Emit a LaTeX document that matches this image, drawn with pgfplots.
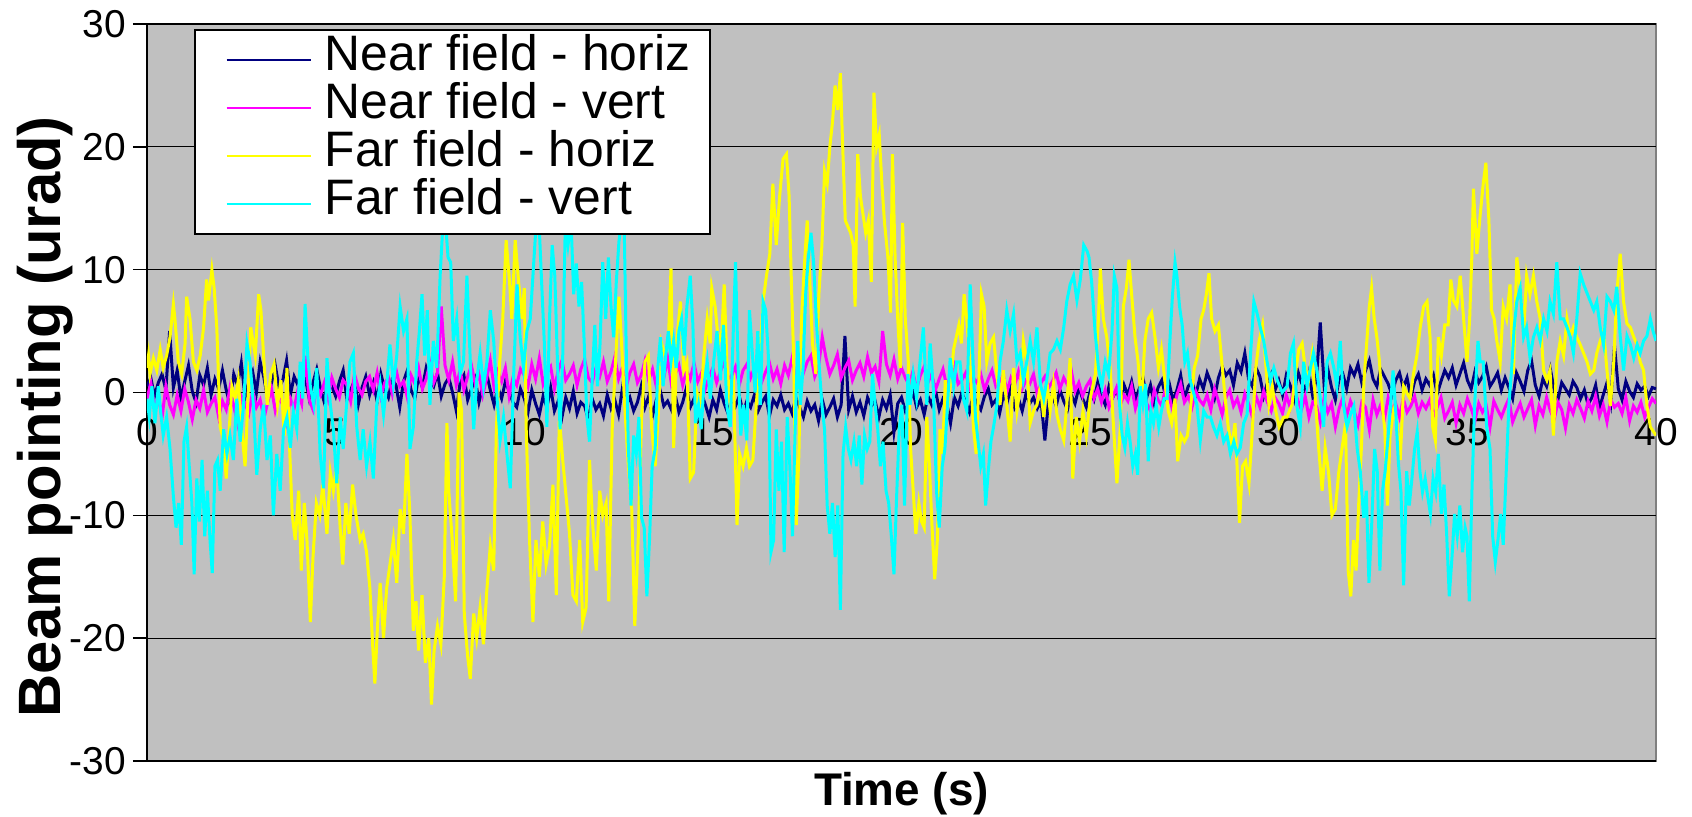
\documentclass[border=0pt]{standalone}
\usepackage{fontspec}
\setmainfont{Liberation Sans}
\usepackage{pgfplots}
\usepackage{pgfplotstable}
\pgfplotsset{compat=1.18}

\definecolor{plotbg}{RGB}{192,192,192}
\definecolor{framegray}{RGB}{128,128,128}
\definecolor{nfh}{RGB}{0,0,128}
\definecolor{nfv}{RGB}{255,0,255}
\definecolor{ffh}{RGB}{255,255,0}
\definecolor{ffv}{RGB}{0,255,255}

% near-field beam pointing, sampled every 0.1 s: time, horizontal, vertical (urad)
\pgfplotstableread[row sep=\\]{
t nfh nfv\\
0.0 0.5 -0.5\\ 0.1 1.2 0.8\\ 0.2 -0.3 -1.2\\ 0.3 0.8 -0.3\\ 0.4 1.5 -2.0\\ 0.5 0.2 0.5\\ 0.6 5.0 -1.0\\ 0.7 0.4 -1.8\\ 0.8 1.8 -0.2\\ 0.9 -0.5 -1.5\\
1.0 0.9 0.3\\ 1.1 2.2 -0.8\\ 1.2 0.1 -2.2\\ 1.3 -0.8 -0.6\\ 1.4 1.4 -1.3\\ 1.5 0.6 0.2\\ 1.6 2.0 -1.6\\ 1.7 -0.2 -0.9\\ 1.8 1.1 -0.4\\ 1.9 0.3 -2.0\\
2.0 1.8 -0.7\\ 2.1 0.2 -1.4\\ 2.2 -1.0 0.4\\ 2.3 1.5 -1.1\\ 2.4 0.6 -2.5\\ 2.5 2.4 -0.3\\ 2.6 -0.4 -0.9\\ 2.7 0.9 -1.7\\ 2.8 1.7 0.1\\ 2.9 0.0 -1.2\\
3.0 2.5 -0.6\\ 3.1 1.2 -2.1\\ 3.2 -0.6 -0.8\\ 3.3 0.8 0.3\\ 3.4 2.2 -1.5\\ 3.5 0.4 -0.4\\ 3.6 1.0 -1.0\\ 3.7 2.6 -2.4\\ 3.8 -0.2 -0.5\\ 3.9 1.3 -1.3\\
4.0 0.6 0.2\\ 4.1 2.0 -0.9\\ 4.2 1.1 3.0\\ 4.3 -0.5 -0.6\\ 4.4 0.8 -1.4\\ 4.5 1.9 0.5\\ 4.6 0.3 -0.2\\ 4.7 -0.8 0.8\\ 4.8 1.2 -0.5\\ 4.9 0.5 1.2\\
5.0 -0.3 0.3\\ 5.1 0.9 -0.4\\ 5.2 1.8 1.0\\ 5.3 -0.6 0.6\\ 5.4 0.2 -0.7\\ 5.5 1.0 1.5\\ 5.6 -1.0 0.4\\ 5.7 0.4 -0.2\\ 5.8 1.3 0.9\\ 5.9 -0.2 1.3\\
6.0 0.8 0.2\\ 6.1 -0.7 1.6\\ 6.2 1.5 -0.3\\ 6.3 0.3 0.8\\ 6.4 -0.4 1.2\\ 6.5 1.1 -0.1\\ 6.6 0.6 1.9\\ 6.7 -1.2 0.5\\ 6.8 0.9 0.9\\ 6.9 1.8 -0.4\\
7.0 0.2 1.4\\ 7.1 -0.5 0.7\\ 7.2 1.3 2.0\\ 7.3 0.4 0.3\\ 7.4 2.0 1.1\\ 7.5 1.0 2.4\\ 7.6 0.5 0.8\\ 7.7 1.6 1.6\\ 7.8 -0.3 7.0\\ 7.9 0.7 2.2\\
8.0 1.2 1.0\\ 8.1 0.0 2.5\\ 8.2 -1.5 0.6\\ 8.3 0.8 1.8\\ 8.4 1.4 0.2\\ 8.5 -0.6 1.3\\ 8.6 0.3 2.2\\ 8.7 1.1 0.7\\ 8.8 -0.8 1.5\\ 8.9 0.5 -0.2\\
9.0 1.6 1.1\\ 9.1 0.2 2.6\\ 9.2 -1.0 0.4\\ 9.3 0.4 1.7\\ 9.4 -0.5 0.9\\ 9.5 0.9 2.0\\ 9.6 0.1 -0.3\\ 9.7 -0.8 1.2\\ 9.8 -1.2 0.6\\ 9.9 0.3 1.9\\
10.0 -0.5 1.4\\ 10.1 -1.6 0.5\\ 10.2 0.2 2.3\\ 10.3 -0.9 1.1\\ 10.4 -1.8 2.8\\ 10.5 -0.3 0.7\\ 10.6 -1.2 1.6\\ 10.7 0.4 2.1\\ 10.8 -1.5 0.3\\ 10.9 -0.7 1.8\\
11.0 -2.0 2.6\\ 11.1 -0.4 1.0\\ 11.2 -1.3 1.5\\ 11.3 0.1 2.2\\ 11.4 -1.7 0.6\\ 11.5 -0.8 1.9\\ 11.6 -1.1 2.7\\ 11.7 -2.2 1.2\\ 11.8 -0.5 0.8\\ 11.9 -1.4 2.0\\
12.0 -0.9 1.3\\ 12.1 -1.9 2.5\\ 12.2 -0.2 0.9\\ 12.3 -1.3 1.7\\ 12.4 -0.6 2.9\\ 12.5 -1.8 1.1\\ 12.6 0.3 2.0\\ 12.7 -1.0 0.4\\ 12.8 -0.4 1.6\\ 12.9 -1.5 2.3\\
13.0 -0.8 0.8\\ 13.1 0.5 1.4\\ 13.2 -1.2 2.6\\ 13.3 -0.3 1.0\\ 13.4 -1.9 1.9\\ 13.5 -0.6 0.5\\ 13.6 0.2 2.1\\ 13.7 -1.1 1.2\\ 13.8 -0.7 2.8\\ 13.9 -1.4 0.7\\
14.0 -0.2 1.5\\ 14.1 -1.6 2.2\\ 14.2 -0.8 0.6\\ 14.3 0.4 1.8\\ 14.4 -1.2 1.1\\ 14.5 -0.5 2.4\\ 14.6 -1.9 0.9\\ 14.7 -0.1 1.6\\ 14.8 -1.0 0.3\\ 14.9 -2.0 1.3\\
15.0 -0.6 2.0\\ 15.1 -1.4 0.8\\ 15.2 0.2 1.7\\ 15.3 -0.9 2.5\\ 15.4 -1.7 1.0\\ 15.5 -0.4 1.4\\ 15.6 -1.1 2.1\\ 15.7 -0.3 0.6\\ 15.8 -1.6 1.8\\ 15.9 -0.7 2.3\\
16.0 -1.2 1.2\\ 16.1 -0.2 2.0\\ 16.2 -1.5 1.5\\ 16.3 -0.8 0.9\\ 16.4 -0.3 1.7\\ 16.5 -1.9 2.4\\ 16.6 -0.6 1.1\\ 16.7 -1.1 1.9\\ 16.8 -0.2 0.7\\ 16.9 -1.4 2.2\\
17.0 -0.9 1.4\\ 17.1 -1.7 2.8\\ 17.2 -0.4 1.0\\ 17.3 -1.2 2.3\\ 17.4 -2.0 1.6\\ 17.5 -0.7 2.5\\ 17.6 -1.5 3.0\\ 17.7 -1.0 1.3\\ 17.8 -2.3 2.1\\ 17.9 -0.6 4.5\\
18.0 -1.8 2.8\\ 18.1 -1.2 1.5\\ 18.2 -0.5 2.2\\ 18.3 -2.0 3.1\\ 18.4 -1.0 1.2\\ 18.5 4.6 2.0\\ 18.6 -1.4 2.6\\ 18.7 -0.3 1.0\\ 18.8 -1.6 1.8\\ 18.9 -0.8 2.4\\
19.0 -1.9 1.3\\ 19.1 -0.4 2.9\\ 19.2 -1.1 1.6\\ 19.3 -0.7 2.1\\ 19.4 -2.0 0.9\\ 19.5 -0.6 5.0\\ 19.6 -1.3 2.3\\ 19.7 -0.2 1.4\\ 19.8 -3.2 2.7\\ 19.9 -0.9 1.1\\
20.0 -0.4 2.0\\ 20.1 -1.5 1.2\\ 20.2 -0.9 0.6\\ 20.3 0.1 1.7\\ 20.4 -1.2 0.3\\ 20.5 -0.6 1.4\\ 20.6 -1.8 2.1\\ 20.7 -0.3 0.8\\ 20.8 -1.0 1.5\\ 20.9 0.2 0.2\\
21.0 -1.4 1.1\\ 21.1 -0.5 1.9\\ 21.2 -0.9 0.5\\ 21.3 -2.5 1.3\\ 21.4 -0.4 2.2\\ 21.5 -1.1 0.7\\ 21.6 0.0 1.0\\ 21.7 -0.8 1.6\\ 21.8 -1.6 0.4\\ 21.9 -0.2 1.2\\
22.0 -0.9 0.8\\ 22.1 -1.4 1.5\\ 22.2 -0.3 0.2\\ 22.3 0.3 1.1\\ 22.4 -1.0 1.8\\ 22.5 -0.6 0.5\\ 22.6 -1.7 0.9\\ 22.7 -0.2 1.4\\ 22.8 -0.8 0.1\\ 22.9 0.4 1.2\\
23.0 -1.2 0.6\\ 23.1 -0.5 1.7\\ 23.2 -1.5 0.3\\ 23.3 -0.1 1.0\\ 23.4 -0.9 0.7\\ 23.5 -0.4 1.5\\ 23.6 -1.3 -0.2\\ 23.7 -0.7 0.8\\ 23.8 -3.9 1.3\\ 23.9 -0.6 0.4\\
24.0 -0.3 0.9\\ 24.1 -1.1 1.6\\ 24.2 0.2 0.3\\ 24.3 -0.7 1.2\\ 24.4 -1.4 0.6\\ 24.5 -0.2 1.8\\ 24.6 -0.9 0.1\\ 24.7 0.4 0.8\\ 24.8 -0.5 -0.3\\ 24.9 -1.2 0.5\\
25.0 0.1 1.0\\ 25.1 -0.6 -0.5\\ 25.2 0.8 0.3\\ 25.3 -0.3 -0.8\\ 25.4 -1.0 0.2\\ 25.5 0.5 -1.2\\ 25.6 -0.4 -0.4\\ 25.7 0.2 0.4\\ 25.8 -0.8 -1.0\\ 25.9 0.6 -0.2\\
26.0 -0.2 -0.7\\ 26.1 0.9 0.5\\ 26.2 -0.6 -1.3\\ 26.3 0.3 -0.3\\ 26.4 1.2 0.6\\ 26.5 -0.4 -0.9\\ 26.6 0.6 -1.5\\ 26.7 -0.9 0.2\\ 26.8 0.4 -0.6\\ 26.9 1.0 -1.1\\
27.0 -0.3 0.4\\ 27.1 0.7 -0.4\\ 27.2 -0.7 -1.6\\ 27.3 0.2 -0.2\\ 27.4 1.4 0.7\\ 27.5 -0.5 -0.8\\ 27.6 0.5 -0.3\\ 27.7 0.9 -1.2\\ 27.8 -0.2 0.1\\ 27.9 1.1 -0.6\\
28.0 0.3 -1.0\\ 28.1 1.6 -0.2\\ 28.2 0.8 -1.4\\ 28.3 -0.4 0.3\\ 28.4 1.2 -0.7\\ 28.5 2.1 -1.8\\ 28.6 1.4 -0.4\\ 28.7 1.8 0.2\\ 28.8 0.6 -1.1\\ 28.9 2.4 -0.5\\
29.0 1.7 -1.6\\ 29.1 3.2 -0.1\\ 29.2 1.1 -0.9\\ 29.3 0.5 -2.0\\ 29.4 2.0 -0.3\\ 29.5 1.3 -1.2\\ 29.6 -0.3 0.1\\ 29.7 0.8 -0.8\\ 29.8 1.5 -1.5\\ 29.9 0.2 -0.4\\
30.0 1.0 -0.9\\ 30.1 -0.2 -1.7\\ 30.2 1.4 -0.2\\ 30.3 0.6 -1.2\\ 30.4 -0.5 0.4\\ 30.5 1.8 -0.6\\ 30.6 0.8 -1.4\\ 30.7 0.2 -0.3\\ 30.8 1.6 -2.0\\ 30.9 -0.3 -0.8\\
31.0 1.2 -1.1\\ 31.1 5.7 -2.4\\ 31.2 0.7 -0.5\\ 31.3 1.9 -1.6\\ 31.4 0.4 -0.9\\ 31.5 -0.6 -2.8\\ 31.6 1.1 -1.3\\ 31.7 1.5 -0.4\\ 31.8 0.3 -1.9\\ 31.9 2.0 -0.7\\
32.0 1.4 -1.5\\ 32.1 2.3 -2.6\\ 32.2 0.8 -0.8\\ 32.3 1.8 -1.2\\ 32.4 2.6 -3.0\\ 32.5 1.1 -0.6\\ 32.6 0.5 -1.8\\ 32.7 1.9 -1.0\\ 32.8 1.3 -2.2\\ 32.9 0.7 -0.4\\
33.0 -0.2 -1.4\\ 33.1 1.0 -0.9\\ 33.2 1.6 -2.0\\ 33.3 0.4 -0.5\\ 33.4 1.2 -1.6\\ 33.5 -0.4 -1.1\\ 33.6 0.9 -0.3\\ 33.7 1.5 -1.7\\ 33.8 0.2 -0.8\\ 33.9 1.1 -1.3\\
34.0 0.6 -0.6\\ 34.1 1.4 -1.9\\ 34.2 -0.1 -1.2\\ 34.3 0.9 -0.4\\ 34.4 1.8 -2.1\\ 34.5 1.2 -1.5\\ 34.6 2.0 -0.8\\ 34.7 0.6 -2.5\\ 34.8 1.5 -1.0\\ 34.9 2.4 -1.7\\
35.0 1.0 -0.5\\ 35.1 0.3 -1.3\\ 35.2 1.7 -2.3\\ 35.3 0.8 -0.9\\ 35.4 1.3 -1.6\\ 35.5 2.1 -1.1\\ 35.6 0.5 -2.8\\ 35.7 1.0 -0.7\\ 35.8 1.6 -1.4\\ 35.9 0.2 -2.0\\
36.0 1.2 -1.2\\ 36.1 0.4 -0.5\\ 36.2 -0.5 -2.4\\ 36.3 1.6 -1.6\\ 36.4 0.9 -0.9\\ 36.5 0.1 -2.0\\ 36.6 1.8 -1.3\\ 36.7 2.6 -0.6\\ 36.8 0.6 -2.7\\ 36.9 -0.3 -1.1\\
37.0 1.1 -1.8\\ 37.1 0.5 -0.4\\ 37.2 1.9 -1.5\\ 37.3 0.2 -2.2\\ 37.4 -0.6 -0.8\\ 37.5 0.8 -1.4\\ 37.6 0.3 -2.9\\ 37.7 -0.2 -1.0\\ 37.8 0.9 -1.7\\ 37.9 0.4 -0.6\\
38.0 -0.5 -1.3\\ 38.1 0.2 -2.1\\ 38.2 -1.0 -0.7\\ 38.3 -0.4 -1.5\\ 38.4 0.6 -0.3\\ 38.5 -1.3 -1.9\\ 38.6 -0.2 -1.0\\ 38.7 0.8 -2.4\\ 38.8 -0.8 -0.6\\ 38.9 3.8 -1.2\\
39.0 0.3 -0.9\\ 39.1 -0.6 -1.7\\ 39.2 0.9 -0.4\\ 39.3 0.1 -2.3\\ 39.4 -0.4 -1.1\\ 39.5 0.7 -1.6\\ 39.6 0.2 -0.8\\ 39.7 0.5 -2.0\\ 39.8 -0.3 -1.2\\ 39.9 0.4 -0.5\\ 40.0 0.3 -0.9\\
}\nearfield

\begin{document}
\begin{tikzpicture}
\begin{axis}[
  name=ax,
  scale only axis,
  width=754.5bp, height=368.5bp,
  xmin=0, xmax=40, ymin=-30, ymax=30,
  axis x line=middle, axis y line=left,
  hide obscured x ticks=false,
  axis line style={-, line width=0.8bp, black},
  axis background/.style={fill=plotbg, draw=framegray, line width=1.1bp},
  xtick={0,5,...,40},
  xticklabels={0,5,10,15,20,25,30,35,40},
  ytick={-30,-20,...,30},
  yticklabels={-30,-20,-10,0,10,20,30},
  ymajorgrids,
  grid style={black, line width=0.6bp},
  xtick style={draw=none},
  ytick style={black, line width=0.8bp},
  tick align=outside, major tick length=7bp,
  tick label style={font=\fontsize{19.5}{19.5}\selectfont},
  xticklabel style={anchor=center, yshift=-13bp},
  yticklabel style={anchor=east},
  every axis x label/.style={at={(rel axis cs:0.5,0)}, yshift=-16.5bp, anchor=center,
    font=\fontsize{23}{23}\selectfont\bfseries},
  every axis y label/.style={at={(rel axis cs:0,0.467)}, xshift=-51bp, rotate=90, anchor=center,
    font=\fontsize{30}{30}\selectfont\bfseries},
  xlabel={Time (s)},
  ylabel={Beam pointing (urad)},
  legend style={
    at={(rel axis cs:0.0311,0.9932)}, anchor=north west,
    draw=black, line width=0.8bp, fill=white,
    font=\fontsize{25}{25}\selectfont,
    inner xsep=10bp, inner ysep=3bp, row sep=0pt,
    nodes={inner sep=0pt, text height=17.5bp, text depth=6.5bp},
  },
  legend cell align=left,
  legend image code/.code={%
    \path[draw=none] (-6bp,0bp) (49bp,0bp);
    \draw[#1, line width=1.2bp] (0bp,0bp) -- (42bp,0bp);},
]
\addplot[nfh, line width=1.5bp, no markers] table[x=t, y=nfh] {\nearfield};
\addlegendentry{Near field - horiz}
\addplot[nfv, line width=1.5bp, no markers] table[x=t, y=nfv] {\nearfield};
\addlegendentry{Near field - vert}
% far field, horizontal
\addplot[ffh, line width=1.5bp, no markers] coordinates {
(0.00,2.0) (0.04,3.0) (0.08,1.5) (0.17,2.8) (0.26,1.8) (0.35,3.5) (0.43,2.0) (0.52,3.0) (0.61,4.5) (0.70,7.2)
(0.74,6.0) (0.83,2.5) (0.92,1.5) (1.01,4.0) (1.05,7.8) (1.14,6.0) (1.23,2.5) (1.32,1.8) (1.41,3.0) (1.50,5.3)
(1.58,9.2) (1.63,7.5) (1.72,10.0) (1.78,8.5) (1.85,5.3) (1.94,-2.8) (2.03,-3.9) (2.10,-7.0) (2.16,-4.0) (2.25,0.5)
(2.34,-0.5) (2.42,1.0) (2.51,-3.0) (2.60,-6.0) (2.69,0.5) (2.75,5.3) (2.87,3.0) (2.96,8.0) (3.02,6.7) (3.11,2.0)
(3.19,-1.0) (3.28,1.5) (3.37,2.3) (3.46,-1.0) (3.55,1.0) (3.64,-3.5) (3.71,2.0) (3.78,-4.5) (3.85,-10.0) (3.93,-12.0)
(4.02,-8.0) (4.09,-14.5) (4.17,-9.0) (4.24,-12.0) (4.33,-18.7) (4.40,-13.4) (4.49,-9.0) (4.58,-10.0) (4.66,-7.5) (4.77,-11.5)
(4.86,-6.5) (4.94,-8.0) (5.03,-6.0) (5.12,-11.0) (5.19,-14.0) (5.27,-9.0) (5.36,-11.5) (5.45,-7.5) (5.54,-10.0) (5.65,-12.0)
(5.73,-11.5) (5.82,-13.0) (5.91,-16.0) (5.98,-20.5) (6.04,-23.7) (6.11,-19.0) (6.18,-15.5) (6.27,-20.0) (6.35,-16.0) (6.44,-14.0)
(6.53,-12.0) (6.62,-15.5) (6.71,-9.5) (6.80,-11.5) (6.89,-5.0) (6.97,-10.0) (7.06,-19.4) (7.13,-17.0) (7.20,-21.0) (7.29,-16.5)
(7.38,-22.0) (7.47,-20.0) (7.54,-25.4) (7.61,-21.0) (7.70,-19.0) (7.79,-20.5) (7.88,-15.0) (7.95,-2.5) (8.00,-8.0) (8.09,-12.0)
(8.18,-17.0) (8.27,0.0) (8.34,-1.5) (8.41,-18.0) (8.50,-21.5) (8.57,-23.3) (8.66,-18.0) (8.74,-20.0) (8.83,-17.5) (8.92,-20.5)
(9.01,-16.0) (9.10,-12.5) (9.19,-14.5) (9.26,-3.0) (9.35,2.5) (9.43,6.0) (9.52,12.4) (9.61,9.0) (9.67,6.0) (9.76,12.4)
(9.85,9.0) (9.94,6.0) (10.00,8.5) (10.05,-2.8) (10.14,-12.0) (10.23,-18.7) (10.31,-12.0) (10.40,-15.0) (10.49,-10.5) (10.58,-14.0)
(10.67,-12.5) (10.76,-7.5) (10.85,-16.5) (10.93,-2.0) (11.02,-5.5) (11.11,-8.5) (11.20,-11.5) (11.29,-16.5) (11.38,-17.0) (11.47,-12.0)
(11.55,-18.7) (11.64,-17.5) (11.73,-5.5) (11.82,-11.0) (11.91,-14.5) (12.00,-8.0) (12.08,-10.0) (12.17,-9.0) (12.24,-17.0) (12.33,-3.0)
(12.42,2.5) (12.51,7.8) (12.58,4.0) (12.67,-1.5) (12.76,-6.0) (12.85,-9.5) (12.93,-19.0) (13.02,-12.0) (13.11,-2.0) (13.20,2.5)
(13.29,3.0) (13.38,-3.0) (13.47,-6.0) (13.55,-2.0) (13.64,4.0) (13.73,3.0) (13.82,4.2) (13.89,10.1) (13.96,-4.5) (14.05,4.5)
(14.14,7.4) (14.23,1.8) (14.31,2.5) (14.40,-7.0) (14.49,-6.5) (14.58,0.0) (14.67,-1.0) (14.76,3.0) (14.85,6.0) (14.93,4.0)
(14.97,8.5) (15.06,7.0) (15.15,4.0) (15.24,5.0) (15.30,8.8) (15.37,2.5) (15.46,-1.0) (15.55,0.5) (15.64,-10.8) (15.71,-5.0)
(15.80,-6.0) (15.89,-4.5) (15.97,-6.0) (16.06,-5.5) (16.15,-1.0) (16.24,2.5) (16.33,7.4) (16.42,9.5) (16.51,11.3) (16.59,17.0)
(16.68,12.0) (16.77,16.0) (16.86,19.0) (16.95,19.4) (17.02,16.0) (17.09,8.0) (17.14,3.0) (17.21,-10.8) (17.28,-5.0) (17.35,6.0)
(17.43,10.6) (17.50,14.0) (17.57,9.0) (17.64,4.0) (17.73,1.5) (17.81,8.0) (17.89,12.0) (17.96,18.0) (18.03,17.0) (18.10,20.0)
(18.17,22.0) (18.24,25.0) (18.31,23.0) (18.38,26.0) (18.43,21.0) (18.51,14.0) (18.58,13.5) (18.65,13.0) (18.72,12.0) (18.77,7.0)
(18.84,19.4) (18.91,16.0) (18.98,14.5) (19.05,13.0) (19.12,14.0) (19.20,9.0) (19.27,24.4) (19.34,20.0) (19.41,21.0) (19.48,17.0)
(19.55,13.8) (19.64,11.0) (19.71,6.5) (19.76,19.4) (19.83,11.0) (19.90,6.0) (19.97,2.0) (20.03,13.8) (20.10,6.0) (20.18,2.5)
(20.24,-4.5) (20.31,-8.0) (20.38,-11.5) (20.46,-9.0) (20.53,-10.5) (20.60,-11.0) (20.67,-2.0) (20.74,-6.0) (20.81,-11.0) (20.88,-15.2)
(20.95,-12.0) (21.02,-3.0) (21.09,-5.0) (21.16,1.0) (21.23,-1.0) (21.31,1.0) (21.38,3.5) (21.45,4.5) (21.52,5.5) (21.59,4.0)
(21.66,8.0) (21.73,6.0) (21.82,2.0) (21.91,-3.0) (21.98,-5.0) (22.05,1.0) (22.12,8.0) (22.19,7.0) (22.26,2.5) (22.35,4.0)
(22.44,4.5) (22.53,1.5) (22.61,-1.0) (22.70,1.8) (22.79,-1.0) (22.88,-4.0) (22.97,2.0) (23.06,-1.5) (23.15,0.5) (23.23,4.2)
(23.32,2.5) (23.41,-2.5) (23.50,-1.5) (23.59,-1.0) (23.68,0.5) (23.77,-2.0) (23.85,1.0) (23.94,-1.5) (24.03,0.7) (24.12,-1.8)
(24.21,-3.0) (24.30,-3.9) (24.38,-1.0) (24.47,2.8) (24.54,-7.0) (24.63,-2.0) (24.72,-4.0) (24.81,-1.5) (24.90,-3.5) (25.00,-0.5)
(25.14,1.5) (25.22,6.0) (25.27,10.1) (25.35,6.0) (25.44,4.5) (25.53,2.0) (25.62,-2.8) (25.71,-7.4) (25.80,-2.8) (25.88,7.0)
(25.96,8.5) (26.03,10.8) (26.10,8.0) (26.19,4.5) (26.27,2.5) (26.36,-1.0) (26.45,4.2) (26.54,6.0) (26.63,6.5) (26.72,4.5)
(26.81,2.0) (26.89,3.5) (26.98,1.0) (27.07,-1.5) (27.16,-2.5) (27.25,-0.5) (27.32,-5.6) (27.41,-3.5) (27.50,-4.0) (27.58,-3.5)
(27.67,-1.0) (27.76,2.0) (27.85,3.0) (27.94,6.0) (28.01,6.7) (28.08,8.0) (28.15,9.7) (28.22,6.0) (28.31,5.0) (28.40,5.5)
(28.49,2.5) (28.58,-0.5) (28.66,-2.8) (28.75,-4.5) (28.84,-2.5) (28.91,-7.0) (28.96,-10.6) (29.04,-6.0) (29.12,-5.6) (29.21,-7.4)
(29.30,-3.0) (29.39,2.0) (29.48,4.2) (29.57,5.5) (29.65,2.5) (29.74,-1.0) (29.83,0.5) (29.92,-1.5) (30.01,-2.8) (30.13,-2.0)
(30.22,-2.0) (30.35,-1.0) (30.44,1.5) (30.53,3.5) (30.62,4.0) (30.70,2.0) (30.79,1.0) (30.88,3.0) (30.97,-0.5) (31.06,-4.6)
(31.15,-8.0) (31.23,-4.5) (31.32,-6.5) (31.41,-10.0) (31.50,-9.5) (31.59,-6.5) (31.68,-4.5) (31.77,-2.5) (31.84,-14.5) (31.91,-16.6)
(31.98,-12.0) (32.05,-14.5) (32.12,-9.0) (32.19,-4.5) (32.26,1.0) (32.33,4.0) (32.40,7.0) (32.46,8.5) (32.53,6.0) (32.60,4.5)
(32.67,2.5) (32.74,-1.0) (32.81,-3.0) (32.88,-9.2) (32.95,-3.5) (33.04,-1.5) (33.13,-2.5) (33.22,-5.5) (33.31,0.5) (33.39,0.0)
(33.48,-0.5) (33.57,1.5) (33.66,3.0) (33.75,5.3) (33.84,7.0) (33.93,7.4) (34.01,4.5) (34.08,-2.8) (34.15,-3.9) (34.23,4.5)
(34.31,3.0) (34.40,5.5) (34.49,5.5) (34.56,9.2) (34.63,7.5) (34.72,7.0) (34.81,9.5) (34.90,6.0) (34.99,2.5) (35.06,6.0)
(35.12,11.3) (35.16,16.6) (35.25,11.3) (35.34,14.5) (35.42,17.0) (35.49,18.7) (35.57,14.0) (35.64,6.7) (35.71,6.0) (35.78,4.2)
(35.87,2.5) (35.95,7.0) (36.04,6.0) (36.13,8.8) (36.22,1.5) (36.31,11.0) (36.40,8.5) (36.49,4.8) (36.57,9.5) (36.66,8.0)
(36.75,9.5) (36.84,7.4) (36.93,6.0) (37.02,1.8) (37.11,1.0) (37.19,1.8) (37.28,-3.5) (37.37,2.5) (37.46,4.2) (37.55,3.0)
(37.64,6.0) (37.73,4.5) (37.81,5.3) (37.90,4.5) (37.99,3.9) (38.08,3.2) (38.17,2.5) (38.26,1.5) (38.35,1.8) (38.43,3.2)
(38.52,4.2) (38.61,5.0) (38.70,1.8) (38.79,-1.1) (38.88,2.5) (38.96,8.0) (39.05,11.3) (39.14,7.4) (39.23,5.6) (39.32,5.3)
(39.41,4.5) (39.50,3.9) (39.58,2.5) (39.67,1.8) (39.76,-1.1) (39.85,-2.8) (40.00,-3.5)
};
\addlegendentry{Far field - horiz}
% far field, vertical
\addplot[ffv, line width=1.5bp, no markers] coordinates {
(0.00,-0.5) (0.06,-2.0) (0.13,0.5) (0.21,-2.5) (0.30,0.5) (0.36,-1.5) (0.43,-3.5) (0.52,-2.0) (0.61,-4.6) (0.70,-8.5)
(0.77,-11.0) (0.84,-9.0) (0.91,-12.4) (0.98,-4.0) (1.05,-2.8) (1.12,-6.0) (1.19,-9.0) (1.25,-14.8) (1.32,-7.0) (1.39,-10.5)
(1.46,-5.5) (1.53,-11.7) (1.60,-8.0) (1.67,-12.0) (1.73,-14.7) (1.80,-6.0) (1.87,-5.5) (1.94,-8.0) (2.03,-3.0) (2.12,-5.0)
(2.20,-3.5) (2.29,-5.5) (2.38,-0.5) (2.47,-4.0) (2.56,-1.0) (2.65,4.0) (2.73,2.5) (2.82,-1.0) (2.91,-6.7) (3.00,-3.0)
(3.09,-1.0) (3.18,-5.5) (3.27,-3.5) (3.35,-10.0) (3.44,-5.0) (3.53,-8.0) (3.62,-3.0) (3.71,-2.0) (3.80,-4.5) (3.88,-1.5)
(3.97,-3.0) (4.06,2.5) (4.13,-0.5) (4.19,7.2) (4.26,3.0) (4.33,0.5) (4.42,-1.0) (4.50,2.0) (4.59,-5.0) (4.68,-7.8)
(4.77,2.8) (4.86,-1.0) (4.94,-3.0) (5.03,-7.4) (5.12,-2.0) (5.20,-4.6) (5.29,-1.0) (5.38,2.5) (5.47,3.2) (5.56,-2.8)
(5.65,-5.5) (5.73,-3.0) (5.82,-6.0) (5.91,-4.0) (6.00,-7.0) (6.09,-1.0) (6.18,0.7) (6.27,-1.8) (6.35,0.5) (6.44,3.9)
(6.53,0.7) (6.62,3.0) (6.71,7.0) (6.80,5.0) (6.89,6.0) (6.97,-4.6) (7.06,-2.8) (7.15,2.5) (7.22,5.0) (7.29,8.0)
(7.36,3.0) (7.43,6.7) (7.50,-1.0) (7.59,4.2) (7.68,2.0) (7.77,9.5) (7.84,13.5) (7.91,14.0) (7.98,11.0) (8.05,10.6)
(8.12,4.2) (8.21,6.0) (8.30,1.5) (8.39,2.5) (8.48,9.5) (8.57,2.5) (8.66,-3.0) (8.74,1.0) (8.83,3.2) (8.92,0.5)
(9.01,2.5) (9.10,6.7) (9.19,4.2) (9.28,-0.5) (9.36,-3.9) (9.45,-2.0) (9.54,-5.0) (9.63,-7.8) (9.72,1.5) (9.81,8.8)
(9.89,4.5) (9.98,2.0) (10.07,5.0) (10.16,6.0) (10.24,10.0) (10.31,13.5) (10.39,14.0) (10.46,9.0) (10.53,4.2) (10.60,-2.8)
(10.67,6.0) (10.74,12.0) (10.81,9.5) (10.88,2.5) (10.95,-3.0) (11.02,3.0) (11.09,14.0) (11.16,12.0) (11.24,14.0) (11.31,8.0)
(11.38,10.5) (11.45,7.0) (11.52,9.0) (11.59,4.0) (11.66,-2.0) (11.73,-4.0) (11.80,1.0) (11.87,5.5) (11.94,0.5) (12.01,4.0)
(12.08,10.6) (12.16,6.0) (12.23,11.0) (12.30,7.0) (12.37,4.5) (12.44,9.0) (12.51,12.3) (12.58,14.0) (12.65,13.5) (12.70,4.0)
(12.76,-4.6) (12.83,-9.2) (12.90,-3.5) (12.97,-5.0) (13.04,-2.0) (13.11,-10.2) (13.18,-11.0) (13.25,-16.6) (13.32,-12.0) (13.39,-6.0)
(13.47,-4.6) (13.54,2.0) (13.61,4.5) (13.68,0.5) (13.75,3.0) (13.82,5.0) (13.89,2.5) (13.96,4.2) (14.03,2.0) (14.10,5.0)
(14.17,6.0) (14.24,3.0) (14.31,7.0) (14.40,9.5) (14.47,5.5) (14.54,-2.5) (14.62,-1.0) (14.69,-3.0) (14.76,0.5) (14.85,2.5)
(14.93,-0.5) (15.02,2.5) (15.11,5.0) (15.20,1.0) (15.28,5.5) (15.37,-1.1) (15.46,-2.8) (15.53,4.0) (15.60,10.6) (15.67,2.0)
(15.74,-3.5) (15.81,-1.0) (15.90,-3.9) (15.97,6.7) (16.05,3.0) (16.12,0.0) (16.19,5.0) (16.26,-1.0) (16.33,7.4) (16.40,6.7)
(16.47,3.0) (16.54,-13.0) (16.61,-12.0) (16.68,-3.0) (16.75,-8.0) (16.82,-4.0) (16.89,-13.0) (16.97,-2.0) (17.04,-6.0) (17.11,-11.7)
(17.18,-3.0) (17.25,4.2) (17.32,-1.0) (17.39,2.0) (17.46,8.0) (17.53,11.0) (17.60,13.0) (17.67,10.6) (17.74,6.0) (17.81,2.5)
(17.89,-1.0) (17.96,-3.0) (18.03,-9.2) (18.10,-11.5) (18.17,-9.0) (18.24,-13.4) (18.31,-9.2) (18.38,-17.7) (18.45,-5.0) (18.52,-2.8)
(18.59,-4.6) (18.66,-5.5) (18.74,-4.0) (18.81,-6.0) (18.88,-3.5) (18.95,-7.5) (19.02,-3.5) (19.09,-4.6) (19.16,-4.0) (19.23,1.5)
(19.30,-1.0) (19.37,-3.0) (19.44,-6.0) (19.51,-4.0) (19.59,-8.0) (19.66,-9.0) (19.73,-11.7) (19.80,-14.8) (19.87,-8.5) (19.94,-3.0)
(20.01,-1.0) (20.08,-9.2) (20.17,1.5) (20.23,-1.0) (20.31,1.5) (20.40,-0.5) (20.49,2.5) (20.58,5.3) (20.67,-1.0) (20.76,4.0)
(20.84,0.5) (20.93,-8.1) (21.00,-11.0) (21.08,-6.0) (21.15,-4.6) (21.22,-1.0) (21.29,2.8) (21.38,0.5) (21.46,2.5) (21.55,2.5)
(21.64,-0.5) (21.73,-1.5) (21.82,8.8) (21.89,3.0) (21.96,-2.0) (22.03,-4.0) (22.10,-6.0) (22.17,-5.0) (22.23,-9.2) (22.30,-6.4)
(22.37,-4.0) (22.44,-2.8) (22.53,-1.0) (22.61,2.5) (22.70,4.2) (22.79,6.7) (22.88,5.0) (22.97,6.4) (23.06,2.5) (23.15,3.2)
(23.23,1.0) (23.32,2.5) (23.41,4.2) (23.50,2.5) (23.59,5.3) (23.68,0.7) (23.77,-0.5) (23.85,1.0) (23.94,3.2) (24.03,3.5)
(24.12,4.2) (24.21,3.5) (24.30,5.3) (24.38,7.4) (24.47,8.8) (24.56,9.5) (24.65,7.5) (24.74,9.2) (24.83,12.0) (24.92,11.5)
(24.97,11.0) (25.04,9.0) (25.13,5.0) (25.22,2.0) (25.31,0.5) (25.40,2.5) (25.49,1.5) (25.58,5.0) (25.64,9.5) (25.71,8.5)
(25.78,-1.0) (25.85,-3.5) (25.92,-4.5) (25.99,-2.5) (26.06,-4.0) (26.13,-6.0) (26.20,-5.0) (26.26,-6.7) (26.33,0.5) (26.40,-1.0)
(26.47,0.7) (26.54,-5.6) (26.61,-1.5) (26.68,-2.5) (26.75,-1.0) (26.82,-2.8) (26.89,-1.5) (26.96,-0.5) (27.04,-0.5) (27.11,4.0)
(27.18,7.8) (27.25,10.6) (27.30,9.5) (27.37,7.0) (27.44,5.5) (27.51,2.5) (27.58,3.2) (27.65,1.0) (27.74,0.0) (27.83,-1.0)
(27.92,-3.9) (28.01,-1.5) (28.10,-2.0) (28.19,-2.0) (28.27,-2.8) (28.36,-3.5) (28.45,-2.5) (28.54,-4.0) (28.63,-3.5) (28.72,-5.0)
(28.81,-4.0) (28.89,-5.0) (28.98,-4.5) (29.07,-2.5) (29.16,-1.8) (29.25,3.0) (29.34,7.4) (29.42,6.5) (29.51,5.3) (29.60,4.2)
(29.69,2.5) (29.78,1.0) (29.87,2.0) (29.96,1.0) (30.09,0.0) (30.22,0.5) (30.31,3.2) (30.39,4.0) (30.48,-1.1) (30.57,-2.8)
(30.66,2.5) (30.75,0.5) (30.84,2.0) (30.92,3.2) (31.01,1.8) (31.10,-0.5) (31.19,-2.8) (31.28,2.5) (31.37,3.2) (31.46,2.0)
(31.54,0.5) (31.63,4.2) (31.72,-1.1) (31.81,-2.8) (31.90,-1.8) (31.99,-1.1) (32.08,-4.6) (32.16,-6.4) (32.25,-10.2) (32.32,-8.0)
(32.39,-15.5) (32.46,-11.0) (32.54,-4.6) (32.61,-6.4) (32.68,-14.5) (32.75,-8.0) (32.82,-6.4) (32.89,-3.9) (32.96,-1.1) (33.03,1.8)
(33.10,-1.5) (33.17,-5.7) (33.24,-8.1) (33.31,-15.7) (33.39,-6.4) (33.46,-9.2) (33.53,-7.0) (33.60,-4.6) (33.67,-3.2) (33.74,-6.4)
(33.81,-8.1) (33.88,-7.0) (33.95,-8.5) (34.02,-9.9) (34.09,-7.0) (34.16,-8.1) (34.23,-5.0) (34.31,-9.9) (34.38,-7.5) (34.45,-11.5)
(34.52,-16.6) (34.59,-13.5) (34.66,-9.9) (34.73,-11.7) (34.80,-9.2) (34.87,-13.0) (34.94,-11.0) (34.99,-11.7) (35.05,-17.0) (35.12,-8.1)
(35.19,-1.1) (35.28,4.2) (35.34,2.5) (35.42,2.5) (35.51,-2.8) (35.60,-4.6) (35.67,-11.7) (35.74,-13.8) (35.81,-12.0) (35.88,-9.9)
(35.95,-12.4) (36.03,-6.4) (36.10,-1.0) (36.17,1.8) (36.24,5.3) (36.31,7.4) (36.40,8.5) (36.49,4.5) (36.57,5.3) (36.66,2.8)
(36.75,4.5) (36.84,5.3) (36.93,4.2) (37.02,6.0) (37.11,5.0) (37.19,7.4) (37.28,6.4) (37.37,10.6) (37.46,6.0) (37.55,6.0)
(37.64,5.3) (37.73,4.5) (37.81,3.2) (37.90,6.0) (37.99,9.7) (38.08,8.8) (38.17,8.1) (38.26,7.4) (38.35,6.7) (38.43,7.4)
(38.52,5.3) (38.61,3.9) (38.70,7.8) (38.79,7.4) (38.88,6.7) (38.96,8.6) (39.05,4.6) (39.14,1.8) (39.23,4.6) (39.32,3.9)
(39.41,2.8) (39.50,3.9) (39.58,3.2) (39.67,4.2) (39.76,4.6) (39.85,6.0) (39.92,5.0) (40.00,4.2)
};
\addlegendentry{Far field - vert}
\end{axis}
\pgfresetboundingbox
\path ([shift={(-73.5bp,-28bp)}]ax.south west) rectangle ([shift={(18bp,12bp)}]ax.north east);
\end{tikzpicture}
\end{document}
